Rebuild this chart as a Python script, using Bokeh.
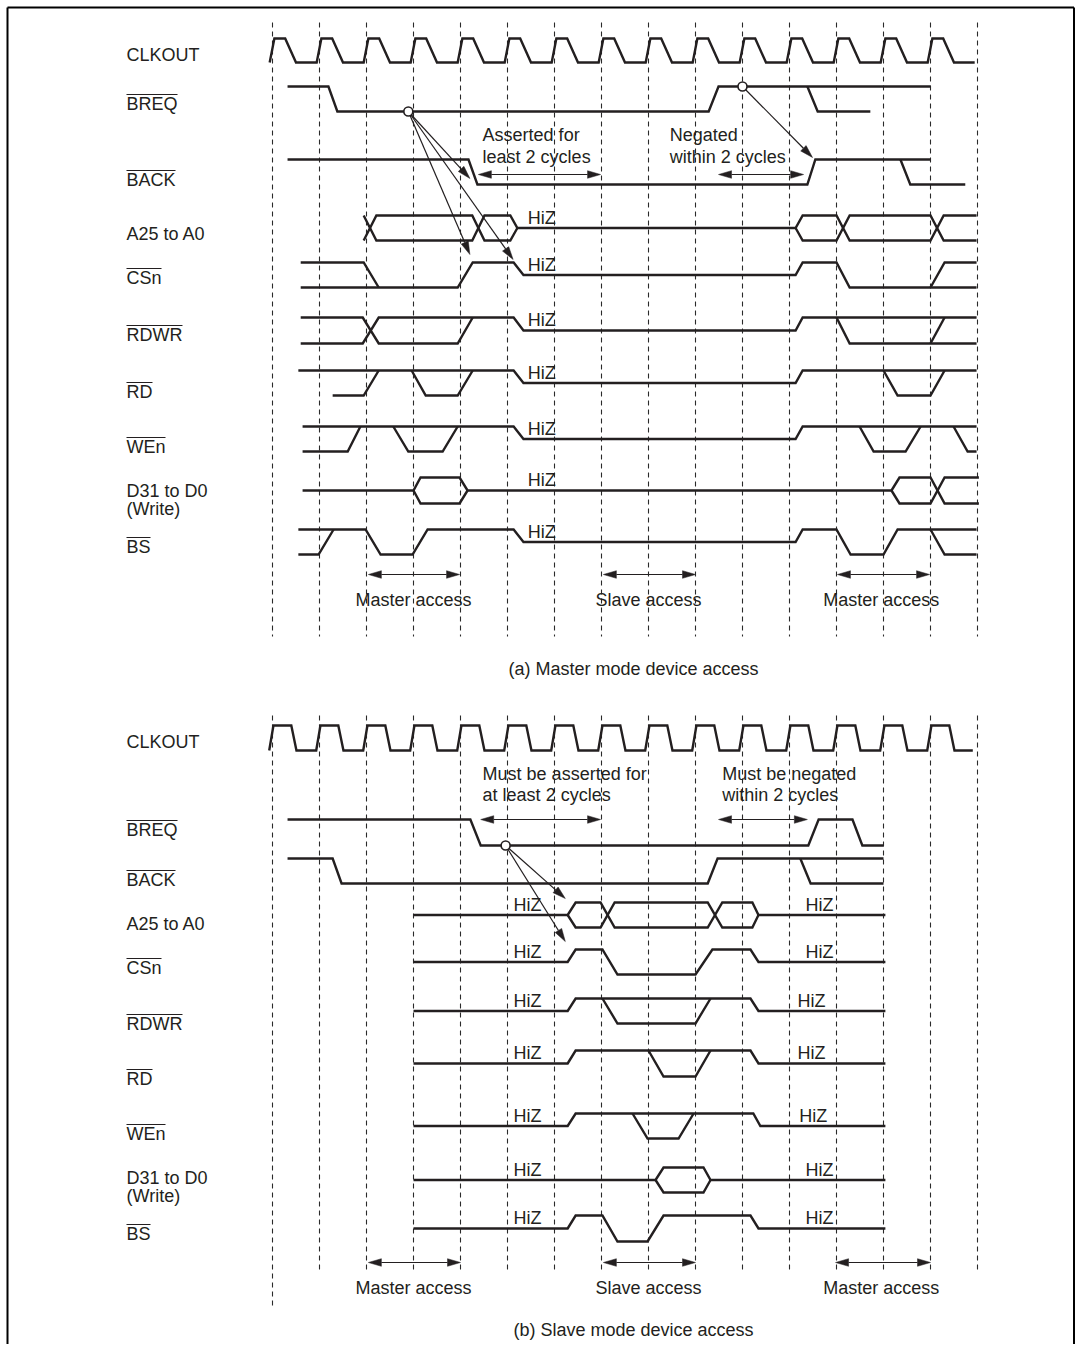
import math
from bokeh.plotting import figure
from bokeh.models import Range1d
from bokeh.core.properties import value
from bokeh.embed import file_html
from bokeh.resources import INLINE

# ======================= DATA =======================
# time axis in clock cycles (cycle k = k-th dashed line); level 1 = high, 0 = low, 0.5 = HiZ
CYCLE_LINES = [0, 1, 2, 3, 4, 5, 6, 7, 8, 9, 10, 11, 12, 13, 14, 15]
CLK_RISES = [0, 1, 2, 3, 4, 5, 6, 7, 8, 9, 10, 11, 12, 13, 14]
CLK_END_A = 14.94
CLK_END_B = 14.9

SIGNAL_LABELS = ["CLKOUT", "BREQ", "BACK", "A25 to A0", "CSn", "RDWR", "RD", "WEn",
                 "D31 to D0", "(Write)", "BS"]
ACTIVE_LOW = [False, True, True, False, True, True, True, True, False, False, True]

# ---- (a) Master mode device access ----
BREQ_A = [[(0.32, 1), (1.19, 1), (1.38, 0), (9.28, 0), (9.49, 1), (14.0, 1)],
          [(11.38, 1), (11.6, 0), (12.72, 0)]]
BACK_A = [[(0.32, 1), (4.17, 1), (4.36, 0), (11.38, 0), (11.55, 1), (14.0, 1)],
          [(13.36, 1), (13.57, 0), (14.74, 0)]]
ADDR_A = [[(1.94, 1), (2.21, 0), (4.25, 0), (4.51, 1), (5.06, 1), (5.21, 0.5), (11.13, 0.5),
           (11.28, 1), (12.0, 1), (12.28, 0), (14.0, 0), (14.28, 1), (14.98, 1)],
          [(1.94, 0), (2.21, 1), (4.25, 1), (4.51, 0), (5.06, 0), (5.21, 0.5)],
          [(11.13, 0.5), (11.28, 0), (12.0, 0), (12.28, 1), (14.0, 1), (14.28, 0), (14.98, 0)]]
CSN_A = [[(0.6, 1), (1.94, 1), (2.26, 0)],
         [(0.6, 0), (3.94, 0), (4.26, 1), (5.13, 1), (5.34, 0.5), (11.13, 0.5), (11.28, 1),
          (12.0, 1), (12.28, 0), (14.98, 0)],
         [(14.0, 0), (14.3, 1), (14.98, 1)]]
RDWR_A = [[(0.6, 1), (1.92, 1), (2.26, 0), (3.94, 0), (4.26, 1)],
          [(0.6, 0), (1.92, 0), (2.26, 1), (5.13, 1), (5.34, 0.5), (11.13, 0.5), (11.28, 1), (14.98, 1)],
          [(12.0, 1), (12.28, 0), (14.98, 0)],
          [(14.0, 0), (14.3, 1)]]
RD_A = [[(0.55, 1), (5.13, 1), (5.34, 0.5), (11.13, 0.5), (11.28, 1), (14.98, 1)],
        [(1.28, 0), (1.94, 0), (2.26, 1)],
        [(2.96, 1), (3.26, 0), (3.94, 0), (4.26, 1)],
        [(13.0, 1), (13.3, 0), (14.0, 0), (14.3, 1)]]
WEN_A = [[(0.64, 1), (5.13, 1), (5.34, 0.5), (11.13, 0.5), (11.28, 1), (14.98, 1)],
         [(0.64, 0), (1.6, 0), (1.87, 1)],
         [(2.57, 1), (2.89, 0), (3.62, 0), (3.94, 1)],
         [(12.49, 1), (12.79, 0), (13.47, 0), (13.79, 1)],
         [(14.49, 1), (14.79, 0), (14.98, 0)]]
DATA_A = [[(0.64, 0.5), (3.0, 0.5), (3.15, 1), (3.98, 1), (4.15, 0.5), (13.17, 0.5), (13.34, 1),
           (14.0, 1), (14.3, 0), (15.03, 0)],
          [(3.0, 0.5), (3.15, 0), (3.98, 0), (4.15, 0.5)],
          [(13.17, 0.5), (13.34, 0), (14.0, 0), (14.3, 1), (15.03, 1)]]
BS_A = [[(0.55, 1), (1.98, 1), (2.3, 0), (2.98, 0), (3.3, 1), (5.13, 1), (5.34, 0.5), (11.13, 0.5),
         (11.28, 1), (12.0, 1), (12.3, 0), (13.0, 0), (13.3, 1), (14.98, 1)],
        [(0.55, 0), (0.98, 0), (1.3, 1)],
        [(14.0, 1), (14.3, 0), (14.98, 0)]]

# ---- (b) Slave mode device access ----
BREQ_B = [[(0.32, 1), (4.21, 1), (4.43, 0), (11.4, 0), (11.62, 1), (12.34, 1), (12.55, 0), (13.0, 0)]]
BACK_B = [[(0.32, 1), (1.28, 1), (1.47, 0), (9.26, 0), (9.47, 1), (13.0, 1)],
          [(11.23, 1), (11.45, 0), (13.0, 0)]]
ADDR_B = [[(3.0, 0.5), (6.28, 0.5), (6.45, 1), (6.98, 1), (7.28, 0), (9.26, 0), (9.57, 1), (10.21, 1),
           (10.34, 0.5), (13.04, 0.5)],
          [(6.28, 0.5), (6.45, 0), (6.98, 0), (7.28, 1), (9.26, 1), (9.57, 0), (10.21, 0), (10.34, 0.5)]]
CSN_B = [[(3.0, 0.5), (6.28, 0.5), (6.45, 1), (7.02, 1), (7.34, 0), (9.0, 0), (9.36, 1), (10.17, 1),
          (10.34, 0.5), (13.04, 0.5)]]
RDWR_B = [[(3.0, 0.5), (6.28, 0.5), (6.45, 1), (10.17, 1), (10.34, 0.5), (13.04, 0.5)],
          [(7.02, 1), (7.34, 0), (9.0, 0), (9.32, 1)]]
RD_B = [[(3.0, 0.5), (6.28, 0.5), (6.45, 1), (10.17, 1), (10.34, 0.5), (13.04, 0.5)],
        [(8.0, 1), (8.32, 0), (9.0, 0), (9.32, 1)]]
WEN_B = [[(3.0, 0.5), (6.28, 0.5), (6.45, 1), (10.23, 1), (10.38, 0.5), (13.04, 0.5)],
         [(7.66, 1), (7.98, 0), (8.64, 0), (8.96, 1)]]
DATA_B = [[(3.0, 0.5), (8.15, 0.5), (8.32, 1), (9.17, 1), (9.32, 0.5), (13.04, 0.5)],
          [(8.15, 0.5), (8.32, 0), (9.17, 0), (9.32, 0.5)]]
BS_B = [[(3.0, 0.5), (6.28, 0.5), (6.45, 1), (7.02, 1), (7.34, 0), (7.98, 0), (8.32, 1), (10.17, 1),
         (10.34, 0.5), (13.04, 0.5)]]

# HiZ label times per row (cycles)
HIZ_A = {"A": [5.43], "CSn": [5.43], "RDWR": [5.43], "RD": [5.43], "WEn": [5.43], "D": [5.43], "BS": [5.43]}
HIZ_B = {"A": [5.13, 11.34], "CSn": [5.13, 11.34], "RDWR": [5.13, 11.17], "RD": [5.13, 11.17],
         "WEn": [5.13, 11.21], "D": [5.13, 11.34], "BS": [5.13, 11.34]}

# cause -> effect arrows: (cycle, row, level) of origin, list of (cycle, row, level) targets
CAUSE_A = [((2.89, "BREQ", 0.0), [(4.2, "BACK", 0.24), (4.2, "CSn", 1.32), (5.12, "CSn", 1.12)]),
           ((10.0, "BREQ", 1.0), [(11.49, "BACK", 1.08)])]
CAUSE_B = [((4.96, "BREQ", 0.0), [(6.23, "A", 1.16), (6.23, "CSn", 1.32)])]

# timing requirement spans (cycles) and their notes
REQ_SPANS_A = [(4.38, 6.98), (9.49, 11.3)]
REQ_TEXT_A = [("Asserted for", "least 2 cycles", 4.47), ("Negated", "within 2 cycles", 8.45)]
REQ_SPANS_B = [(4.43, 6.98), (9.49, 11.38)]
REQ_TEXT_B = [("Must be asserted for", "at least 2 cycles", 4.47), ("Must be negated", "within 2 cycles", 9.57)]

ACCESS_SPANS_A = [(2.04, 3.98), (7.04, 9.0), (12.02, 13.98)]
ACCESS_SPANS_B = [(2.04, 4.0), (7.04, 9.0), (11.98, 14.0)]
ACCESS_LABELS = ["Master access", "Slave access", "Master access"]
ACCESS_CENTERS = [3.0, 8.0, 12.95]
CAPTIONS = ["(a) Master mode device access", "(b) Slave mode device access"]
CAPTION_CENTER = 7.68

# ======================= LAYOUT / STYLE =======================
FONT = "Liberation Sans"
INK = "#231f20"
W, H = 1075, 1344
X0_PX, CYC_PX = 272.0, 47.0
TEXT_DY = -6.5   # compensate renderer baseline placement

def px2c(px):
    return (px - X0_PX) / CYC_PX

ROWS_A = {"CLK": (38, 62), "BREQ": (86, 111), "BACK": (159, 184), "A": (215, 240), "CSn": (262, 287),
          "RDWR": (317, 343), "RD": (370, 395), "WEn": (426, 451), "D": (477, 503), "BS": (529, 554)}
ROWS_B = {"CLK": (725, 750), "BREQ": (819, 845), "BACK": (858, 883), "A": (902, 927), "CSn": (949, 974),
          "RDWR": (998, 1023), "RD": (1050, 1076), "WEn": (1113, 1138), "D": (1167, 1192), "BS": (1215, 1241)}
LABEL_Y_A = [61, 110, 186, 240, 284, 341, 398, 453, 497, 515, 553]
LABEL_Y_B = [748, 836, 886, 930, 974, 1030, 1085, 1140, 1184, 1202, 1240]
LABEL_X = px2c(126)

CHAR_W = {"B": 667, "R": 722, "E": 667, "Q": 778, "A": 667, "C": 722, "K": 667, "S": 667,
          "n": 556, "D": 722, "W": 944, "e": 556}

p = figure(width=W, height=H, x_range=Range1d(px2c(0), px2c(W)), y_range=Range1d(H, 0),
           output_backend="svg", toolbar_location=None, min_border=0,
           x_axis_location=None, y_axis_location=None)
p.grid.visible = False
p.outline_line_color = None
p.background_fill_color = "white"
p.border_fill_color = "white"

# frame (left, top, right)
p.segment(x0=[px2c(7), px2c(7), px2c(1073.5)], y0=[H, 7, 7],
          x1=[px2c(7), px2c(1073.5), px2c(1073.5)], y1=[7, 7, H], line_color="black", line_width=2)

def lvl_y(row, lv):
    yh, yl = row
    return yl + (yh - yl) * lv

def clock_pts(rises, shape, end):
    pts = []
    for r in rises:
        pts += [(r + shape[0], 0), (r + shape[1], 1), (r + shape[2], 1), (r + shape[3], 0)]
    pts.append((end, 0))
    return pts

def draw_wave(rows, key, polylines):
    xs = [[t for t, _ in pl] for pl in polylines]
    ys = [[lvl_y(rows[key], lv) for _, lv in pl] for pl in polylines]
    p.multi_line(xs, ys, line_color=INK, line_width=2.4, line_join="miter")

def head(tip, tail, length=13.0, half=3.8):
    tx, ty = tip[0] * CYC_PX, tip[1]
    sx, sy = tail[0] * CYC_PX, tail[1]
    dx, dy = tx - sx, ty - sy
    d = math.hypot(dx, dy)
    ux, uy = dx / d, dy / d
    bx, by = tx - ux * length, ty - uy * length
    nx, ny = -uy, ux
    xs = [tx / CYC_PX, (bx + nx * half) / CYC_PX, (bx - nx * half) / CYC_PX]
    ys = [ty, by + ny * half, by - ny * half]
    return xs, ys, (bx / CYC_PX, by)

def arrow(start, tip, double=False):
    hx, hy, base = head(tip, start)
    px_, py_ = [hx], [hy]
    s = start
    if double:
        hx2, hy2, base2 = head(start, tip)
        px_.append(hx2); py_.append(hy2)
        s = base2
    p.segment(x0=[s[0]], y0=[s[1]], x1=[base[0]], y1=[base[1]], line_color=INK, line_width=1.2)
    p.patches(px_, py_, fill_color=INK, line_color=INK, line_width=0.5)

def text(xs, ys, txt, align="left", size="18px"):
    p.text(x=xs, y=[y + TEXT_DY for y in ys], text=txt, text_font=value(FONT), text_font_size=size,
           text_color=INK, text_align=align, text_baseline="alphabetic")

def panel(rows, waves, clk_shape, clk_end, grid_top, grid_bot, first_bot, label_y, hiz,
          causes, req_spans, req_text, req_y, req_text_y, access_spans, access_y, access_text_y,
          caption, caption_y):
    bots = [first_bot] + [grid_bot] * (len(CYCLE_LINES) - 1)
    p.segment(x0=CYCLE_LINES, y0=[grid_top] * len(CYCLE_LINES), x1=CYCLE_LINES, y1=bots,
              line_color="#2a2a2a", line_width=1.1, line_dash="5 4")
    draw_wave(rows, "CLK", [clock_pts(CLK_RISES, clk_shape, clk_end)])
    for key, pls in waves.items():
        draw_wave(rows, key, pls)
    text([LABEL_X] * len(SIGNAL_LABELS), label_y, SIGNAL_LABELS)
    ox0, ox1, oy = [], [], []
    for name, yb, al in zip(SIGNAL_LABELS, label_y, ACTIVE_LOW):
        if al:
            wpx = sum(CHAR_W[c] for c in name) / 1000 * 18
            ox0.append(LABEL_X); ox1.append(LABEL_X + wpx / CYC_PX); oy.append(yb - 16)
    p.segment(x0=ox0, y0=oy, x1=ox1, y1=oy, line_color=INK, line_width=1.2)
    hx, hy = [], []
    for key, ts in hiz.items():
        yc = lvl_y(rows[key], 0.5)
        for t in ts:
            hx.append(t); hy.append(yc - 4)
    text(hx, hy, ["HiZ"] * len(hx))
    for (t0, r0, l0), targets in causes:
        o = (t0, lvl_y(rows[r0], l0))
        for (t1, r1, l1) in targets:
            arrow(o, (t1, lvl_y(rows[r1], l1)))
        p.scatter([o[0]], [o[1]], size=9, marker="circle", fill_color="white", line_color=INK, line_width=1.6)
    for (a, b) in req_spans:
        arrow((a, req_y), (b, req_y), double=True)
    for (l1, l2, tx) in req_text:
        text([tx, tx], req_text_y, [l1, l2])
    for (a, b) in access_spans:
        arrow((a, access_y), (b, access_y), double=True)
    text(ACCESS_CENTERS, [access_text_y] * 3, ACCESS_LABELS, align="center")
    text([CAPTION_CENTER], [caption_y], [caption], align="center")

panel(ROWS_A, {"BREQ": BREQ_A, "BACK": BACK_A, "A": ADDR_A, "CSn": CSN_A, "RDWR": RDWR_A,
               "RD": RD_A, "WEn": WEN_A, "D": DATA_A, "BS": BS_A},
      (-0.06, 0.04, 0.27, 0.5), CLK_END_A, 22, 636, 636, LABEL_Y_A, HIZ_A, CAUSE_A,
      REQ_SPANS_A, REQ_TEXT_A, 174, [141, 163], ACCESS_SPANS_A, 574, 606, CAPTIONS[0], 675)

panel(ROWS_B, {"BREQ": BREQ_B, "BACK": BACK_B, "A": ADDR_B, "CSn": CSN_B, "RDWR": RDWR_B,
               "RD": RD_B, "WEn": WEN_B, "D": DATA_B, "BS": BS_B},
      (-0.07, 0.02, 0.4, 0.51), CLK_END_B, 715, 1273, 1306, LABEL_Y_B, HIZ_B, CAUSE_B,
      REQ_SPANS_B, REQ_TEXT_B, 819, [780, 801], ACCESS_SPANS_B, 1262, 1294, CAPTIONS[1], 1336)

open("out.html", "w").write(file_html(p, INLINE))
